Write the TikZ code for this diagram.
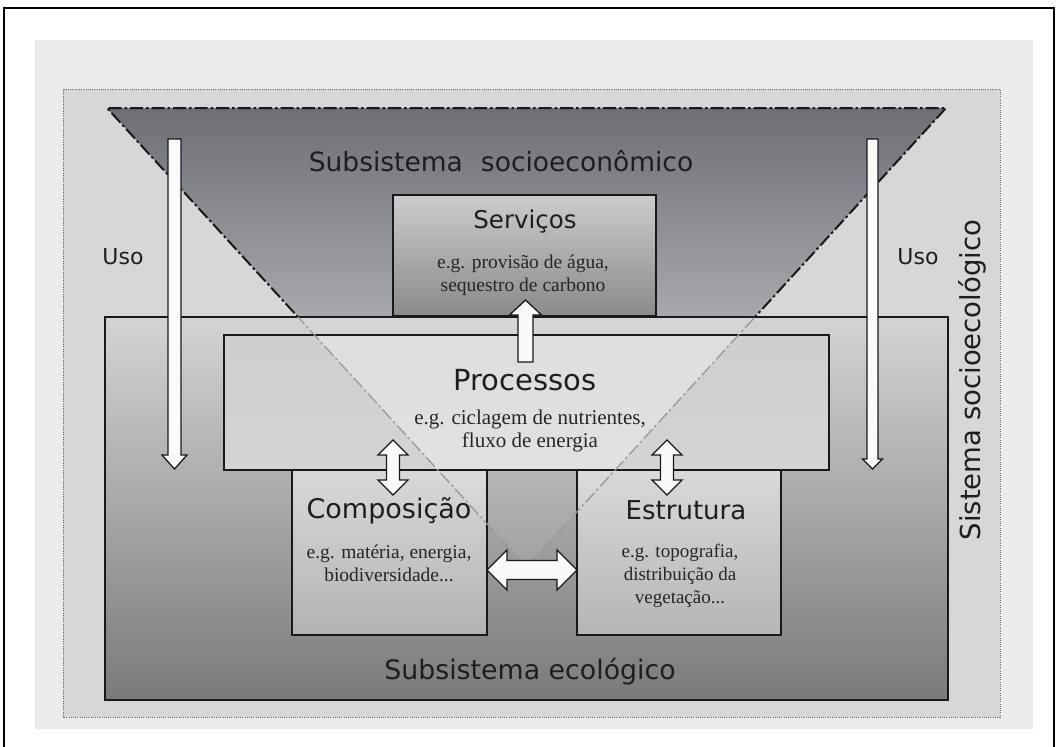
\documentclass[tikz,border=0pt]{standalone}
\usepackage{fontspec}
\setmainfont{Liberation Serif}
\newfontfamily\sansf{DejaVu Sans}
\usetikzlibrary{calc}
\definecolor{panelc}{HTML}{EBEBEB}
\definecolor{dotc}{HTML}{D7D7D7}
\definecolor{triTop}{HTML}{6D6F75}
\definecolor{triMid}{HTML}{D2D2D2}
\definecolor{triBot}{HTML}{EEEEEE}
\definecolor{txtc}{HTML}{1E1E1E}
\newcommand\blkarrowS[5]{%
  \path coordinate (ah) at ($(#2)!#5!(#1)$);
  \draw[blk] ($(#1)!#3!90:(#2)$) -- ($(ah)!#3!90:(#2)$) -- ($(ah)!#4!90:(#2)$) -- (#2)
    -- ($(ah)!#4!-90:(#2)$) -- ($(ah)!#3!-90:(#2)$) -- ($(#1)!#3!-90:(#2)$) -- cycle;}
\newcommand\blkarrowD[5]{%
  \path coordinate (ha) at ($(#2)!#5!(#1)$) coordinate (hb) at ($(#1)!#5!(#2)$);
  \draw[blk] (#1) -- ($(hb)!#4!90:(#2)$) -- ($(hb)!#3!90:(#2)$) -- ($(ha)!#3!90:(#2)$)
    -- ($(ha)!#4!90:(#2)$) -- (#2) -- ($(ha)!#4!-90:(#2)$) -- ($(ha)!#3!-90:(#2)$)
    -- ($(hb)!#3!-90:(#2)$) -- ($(hb)!#4!-90:(#2)$) -- cycle;}
\begin{document}
\begin{tikzpicture}[x=1pt,y=-1pt,
  boxfill/.style={inner sep=0pt, outer sep=0pt, anchor=north west},
  boxline/.style={draw=black!90, line width=1.8pt},
  blk/.style={draw=black!90, line width=1.3pt, fill=white!96!gray, line join=miter},
  dashdot/.style={dash pattern=on 13pt off 3pt on 2.5pt off 3pt},
  ttl/.style={font=\sansf\fontsize{#1}{#1}\selectfont, text=txtc, inner sep=0pt},
  eg/.style={font=\fontsize{#1}{23}\selectfont, align=center, text=black!85, inner sep=0pt},
]
\useasboundingbox (0,0) rectangle (1058,747);
\fill[white] (0,0) rectangle (1058,747);
\draw[line width=2.5pt] (4,8) rectangle (1054,790);
\fill[panelc] (35,40) rectangle (1033,729);
\draw[fill=dotc, draw=black!60, line width=1pt, dash pattern=on 1pt off 1.2pt] (63,89) rectangle (1000,717);

% socio-economic triangle
\coordinate (tl) at (107,108);
\coordinate (tr) at (946,108);
\coordinate (ap) at (526.5,567);
\path[top color=triTop, middle color=triMid, bottom color=triBot] (tl) -- (tr) -- (ap) -- cycle;
\draw[line width=2pt, dashdot, draw=black!90] (ap) -- (tl) -- (tr) -- cycle;

% boxes (fills)
\node[boxfill, minimum width=263pt, minimum height=121pt, top color=black!20, bottom color=black!46] (serv) at (393,195) {};
\node[boxfill, minimum width=843pt, minimum height=383pt, top color=black!17, middle color=black!22, bottom color=black!52] (eco) at (105,317) {};
\node[boxfill, minimum width=605pt, minimum height=135pt, top color=black!19, bottom color=black!17] (proc) at (224,335) {};
\node[boxfill, minimum width=195pt, minimum height=165pt, top color=black!15, bottom color=black!30] (comp) at (292,470) {};
\node[boxfill, minimum width=204pt, minimum height=165pt, top color=black!15, bottom color=black!29] (estr) at (577,470) {};

% lighter overlay where the triangle covers the ecological subsystem
\begin{scope}
  \clip (eco.north west) rectangle (eco.south east);
  \fill[white, opacity=0.08] (tl) -- (tr) -- (ap) -- cycle;
\end{scope}
\begin{scope}
  \clip (proc.north west) rectangle (proc.south east);
  \fill[white, opacity=0.28] (tl) -- (tr) -- (ap) -- cycle;
\end{scope}

% box borders
\draw[boxline] (serv.north west) rectangle (serv.south east);
\draw[boxline] (eco.north west) rectangle (eco.south east);
\draw[boxline] (proc.north west) rectangle (proc.south east);
\draw[boxline] (comp.north west) rectangle (comp.south east);
\draw[boxline] (estr.north west) rectangle (estr.south east);

% faint triangle edges inside the ecological subsystem
\begin{scope}
  \clip (eco.north west) rectangle (eco.south east);
  \draw[line width=1.3pt, dashdot, draw=black!40] (tl) -- (ap) -- (tr);
\end{scope}

% block arrows
\coordinate (usoL1) at (174.5,139);
\coordinate (usoL2) at (174.5,469);
\coordinate (usoR1) at (872.5,139);
\coordinate (usoR2) at (872.5,469);
\blkarrowS{usoL1}{usoL2}{6.5pt}{12.5pt}{14pt}
\blkarrowS{usoR1}{usoR2}{5.5pt}{10pt}{10pt}
\coordinate (upT) at (525.5,362);
\coordinate (upH) at (525.5,300);
\blkarrowS{upT}{upH}{7.5pt}{16pt}{15pt}
\coordinate (cpA) at (393,440);
\coordinate (cpB) at (393,495);
\blkarrowD{cpA}{cpB}{6.5pt}{15pt}{15pt}
\coordinate (epA) at (667,440);
\coordinate (epB) at (667,495);
\blkarrowD{epA}{epB}{6.5pt}{15pt}{15pt}
\blkarrowD{comp.east |- 0,570}{estr.west |- 0,570}{9.5pt}{20pt}{20pt}

% texts
\node[ttl=26.5] (tsoc) at (501,161) {Subsistema\hspace{18pt}socioeconômico};
\node[ttl=24.5] (tserv) at (525,222) {Serviços};
\node[eg=19.5] (eserv) at (523,275) {e.g. provisão de água,\\sequestro de carbono};
\node[ttl=29] (tproc) at (525,380) {Processos};
\node[eg=21, font=\fontsize{21}{23}\selectfont] (eproc) at (530,431) {e.g. ciclagem de nutrientes,\\fluxo de energia};
\node[ttl=27] (tcomp) at (389,511) {Composição};
\node[eg=19.5] (ecomp) at (389,563) {e.g. matéria, energia,\\biodiversidade...};
\node[ttl=26] (testr) at (686,510) {Estrutura};
\node[eg=19] (eestr) at (680,576) {e.g. topografia,\\distribuição da\\vegetação...};
\node[ttl=26.8] (teco) at (530,672) {Subsistema ecológico};
\node[ttl=22] (usoL) at (123,257) {Uso};
\node[ttl=22] (usoR) at (918,257) {Uso};
\node[ttl=27.5, rotate=90] (tsis) at (972,380) {Sistema socioecológico};
\end{tikzpicture}
\end{document}
